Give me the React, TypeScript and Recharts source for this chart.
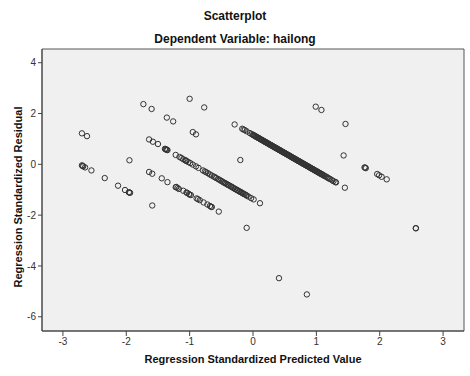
import React from 'react';
import { ScatterChart, Scatter, XAxis, YAxis, ReferenceArea } from 'recharts';

const xTicks = [-3, -2, -1, 0, 1, 2, 3];
const yTicks = [-6, -4, -2, 0, 2, 4];
const xDomain: [number, number] = [-3.33, 3.33];
const yDomain: [number, number] = [-6.56, 4.54];

const title = 'Scatterplot';
const subtitle = 'Dependent Variable: hailong';
const xLabel = 'Regression Standardized Predicted Value';
const yLabel = 'Regression Standardized Residual';

// [predicted, residual] pairs grouped by diagonal band
const bandA: [number, number][] = [
  [-2.70, -0.04], [-2.69, -0.06], [-2.68, -0.08], [-2.65, -0.12], [-2.55, -0.24], [-2.34, -0.54],
  [-2.13, -0.84], [-2.02, -1.01], [-1.96, -1.10], [-1.95, -1.11], [-1.94, -1.12], [-1.59, -1.62],
  [0.41, -4.48], [0.85, -5.12],
];

const bandB: [number, number][] = [
  [-2.70, 1.22], [-2.62, 1.11], [-1.95, 0.16], [-1.64, -0.30], [-1.59, -0.37],
  [-1.44, -0.55], [-1.35, -0.70], [-1.22, -0.90], [-1.21, -0.89], [-1.19, -0.93],
  [-1.17, -0.97], [-1.10, -1.04], [-1.05, -1.11], [-1.04, -1.12], [-1.01, -1.17],
  [-1.00, -1.19], [-0.98, -1.21], [-0.89, -1.34], [-0.87, -1.37], [-0.84, -1.41],
  [-0.78, -1.50], [-0.72, -1.58], [-0.68, -1.64], [-0.66, -1.67], [-0.65, -1.68],
  [-0.54, -1.86], [-0.10, -2.50],
];

const bandC: [number, number][] = [
  [-1.64, 0.98], [-1.58, 0.89], [-1.50, 0.80], [-1.39, 0.61], [-1.38, 0.60],
  [-1.37, 0.58], [-1.36, 0.57], [-1.35, 0.56], [-1.22, 0.37], [-1.16, 0.29],
  [-1.13, 0.25], [-1.10, 0.20], [-1.07, 0.16], [-1.06, 0.15], [-1.05, 0.13],
  [-1.02, 0.09], [-0.99, 0.05], [-0.95, -0.01], [-0.90, -0.08], [-0.86, -0.14],
  [-0.79, -0.24], [-0.76, -0.28], [-0.74, -0.31], [-0.71, -0.35], [-0.68, -0.40],
  [-0.65, -0.44], [-0.62, -0.48], [-0.60, -0.51], [-0.58, -0.54], [-0.55, -0.58],
  [-0.53, -0.61], [-0.51, -0.64], [-0.49, -0.67], [-0.47, -0.70], [-0.45, -0.73],
  [-0.44, -0.74], [-0.42, -0.77], [-0.40, -0.80], [-0.39, -0.81], [-0.37, -0.84],
  [-0.35, -0.87], [-0.34, -0.88], [-0.32, -0.91], [-0.31, -0.93], [-0.29, -0.96],
  [-0.28, -0.97], [-0.26, -1.00], [-0.25, -1.01], [-0.24, -1.03], [-0.22, -1.06],
  [-0.21, -1.07], [-0.19, -1.10], [-0.18, -1.11], [-0.16, -1.14], [-0.15, -1.16],
  [-0.13, -1.18], [-0.11, -1.21], [-0.10, -1.23], [-0.07, -1.27], [-0.03, -1.33],
  [0.01, -1.38], [0.11, -1.53],
];

const bandD: [number, number][] = [
  [-1.73, 2.37], [-1.60, 2.18], [-1.36, 1.84], [-1.26, 1.69], [-0.95, 1.27],
  [-0.90, 1.18], [-0.20, 0.17],
];

const bandE: [number, number][] = [
  [-1.00, 2.58], [-0.77, 2.24], [-0.29, 1.57], [-0.17, 1.40], [-0.15, 1.37],
  [-0.13, 1.35], [-0.10, 1.30], [-0.05, 1.23], [-0.02, 1.19], [0.01, 1.15],
  [0.03, 1.12], [0.05, 1.09], [0.07, 1.06], [0.09, 1.03], [0.11, 1.00],
  [0.13, 0.97], [0.15, 0.95], [0.17, 0.92], [0.19, 0.89], [0.21, 0.86],
  [0.23, 0.83], [0.25, 0.80], [0.27, 0.77], [0.29, 0.75], [0.31, 0.72],
  [0.33, 0.69], [0.35, 0.66], [0.37, 0.63], [0.39, 0.60], [0.41, 0.57],
  [0.43, 0.55], [0.45, 0.52], [0.47, 0.49], [0.49, 0.46], [0.51, 0.43],
  [0.53, 0.40], [0.55, 0.37], [0.57, 0.35], [0.59, 0.32], [0.61, 0.29],
  [0.63, 0.26], [0.65, 0.23], [0.67, 0.20], [0.69, 0.17], [0.71, 0.14],
  [0.73, 0.12], [0.75, 0.09], [0.77, 0.06], [0.79, 0.03], [0.81, 0.00],
  [0.83, -0.03], [0.85, -0.06], [0.87, -0.08], [0.89, -0.11], [0.91, -0.14],
  [0.93, -0.17], [0.95, -0.20], [0.97, -0.23], [0.99, -0.26], [1.01, -0.28],
  [1.03, -0.31], [1.05, -0.34], [1.07, -0.37], [1.09, -0.40], [1.12, -0.44],
  [1.15, -0.48], [1.18, -0.53], [1.22, -0.58], [1.25, -0.63], [1.27, -0.66],
  [1.30, -0.70], [1.31, -0.71], [1.45, -0.92], [2.57, -2.52], [2.57, -2.51],
];

const bandE2: [number, number][] = [
  [0.00, 1.16], [0.02, 1.13], [0.04, 1.10], [0.06, 1.07], [0.08, 1.05],
  [0.10, 1.02], [0.12, 0.99], [0.14, 0.96], [0.16, 0.93], [0.18, 0.90],
  [0.20, 0.87], [0.22, 0.85], [0.24, 0.82], [0.26, 0.79], [0.28, 0.76],
  [0.30, 0.73], [0.32, 0.70], [0.34, 0.67], [0.36, 0.65], [0.38, 0.62],
  [0.40, 0.59], [0.42, 0.56], [0.44, 0.53], [0.46, 0.50], [0.48, 0.47],
  [0.50, 0.45], [0.52, 0.42], [0.54, 0.39], [0.56, 0.36], [0.58, 0.33],
  [0.60, 0.30], [0.62, 0.27], [0.64, 0.24], [0.66, 0.22], [0.68, 0.19],
  [0.70, 0.16], [0.72, 0.13], [0.74, 0.10], [0.76, 0.07], [0.78, 0.04],
  [0.80, 0.02], [0.82, -0.01], [0.84, -0.04], [0.86, -0.07], [0.88, -0.10],
  [0.90, -0.13], [0.92, -0.16], [0.94, -0.18], [0.96, -0.21], [0.98, -0.24],
  [1.00, -0.27], [1.02, -0.30], [1.04, -0.33], [1.06, -0.36], [1.08, -0.38],
  [1.10, -0.41], [1.13, -0.46], [1.17, -0.51], [1.20, -0.56],
];

const bandF: [number, number][] = [
  [1.43, 0.35], [1.76, -0.12], [1.77, -0.13], [1.78, -0.15], [1.96, -0.38],
  [1.99, -0.43], [2.03, -0.49], [2.11, -0.59],
];

const bandG: [number, number][] = [
  [0.99, 2.27], [1.08, 2.14], [1.46, 1.59],
];

const points = [
  ...bandA, ...bandB, ...bandC, ...bandD, ...bandE, ...bandE2, ...bandF, ...bandG,
].map(([x, y]) => ({ x, y }));

const FONT = '"Liberation Sans", Arial, Helvetica, sans-serif';

const Dot = (props: any) => {
  const { cx, cy } = props;
  if (cx == null || cy == null) return null;
  return <circle cx={cx} cy={cy} r={2.7} fill="none" stroke="#333" strokeWidth={1} />;
};

export default function App() {
  return (
    <div
      style={{
        position: 'absolute',
        left: 0,
        top: 0,
        width: 470,
        height: 376,
        background: '#fff',
        fontFamily: FONT,
        overflow: 'hidden',
      }}
    >
      <ScatterChart width={470} height={376} margin={{ top: 49, right: 6, bottom: 0, left: 0 }}>
        <XAxis
          type="number"
          dataKey="x"
          domain={xDomain}
          ticks={xTicks}
          allowDataOverflow
          height={45}
          tickSize={5}
          tickMargin={2}
          axisLine={{ stroke: '#444' }}
          tickLine={{ stroke: '#444' }}
          tick={{ fontSize: 10, fill: '#333', fontFamily: FONT }}
        />
        <YAxis
          type="number"
          dataKey="y"
          domain={yDomain}
          ticks={yTicks}
          allowDataOverflow
          width={42}
          tickSize={4}
          tickMargin={2}
          axisLine={{ stroke: '#444' }}
          tickLine={{ stroke: '#444' }}
          tick={{ fontSize: 10, fill: '#333', fontFamily: FONT }}
        />
        <ReferenceArea
          x1={xDomain[0]}
          x2={xDomain[1]}
          y1={yDomain[0]}
          y2={yDomain[1]}
          fill="#f0f0f0"
          fillOpacity={1}
          stroke="#555"
          strokeWidth={1}
        />
        <Scatter data={points} shape={<Dot />} isAnimationActive={false} />
      </ScatterChart>
      <div
        style={{
          position: 'absolute',
          left: 0,
          top: 9,
          width: 470,
          textAlign: 'center',
          fontWeight: 'bold',
          fontSize: 12,
          lineHeight: '14px',
          color: '#111',
        }}
      >
        {title}
      </div>
      <div
        style={{
          position: 'absolute',
          left: 0,
          top: 32,
          width: 470,
          textAlign: 'center',
          fontWeight: 'bold',
          fontSize: 12,
          lineHeight: '14px',
          color: '#111',
        }}
      >
        {subtitle}
      </div>
      <div
        style={{
          position: 'absolute',
          left: 53,
          top: 352,
          width: 400,
          textAlign: 'center',
          fontWeight: 'bold',
          fontSize: 11,
          lineHeight: '14px',
          color: '#111',
        }}
      >
        {xLabel}
      </div>
      <div
        style={{
          position: 'absolute',
          left: 18 - 120,
          top: 197 - 7,
          width: 240,
          textAlign: 'center',
          fontWeight: 'bold',
          fontSize: 11,
          lineHeight: '14px',
          color: '#111',
          transform: 'rotate(-90deg)',
          transformOrigin: '50% 50%',
        }}
      >
        {yLabel}
      </div>
    </div>
  );
}
